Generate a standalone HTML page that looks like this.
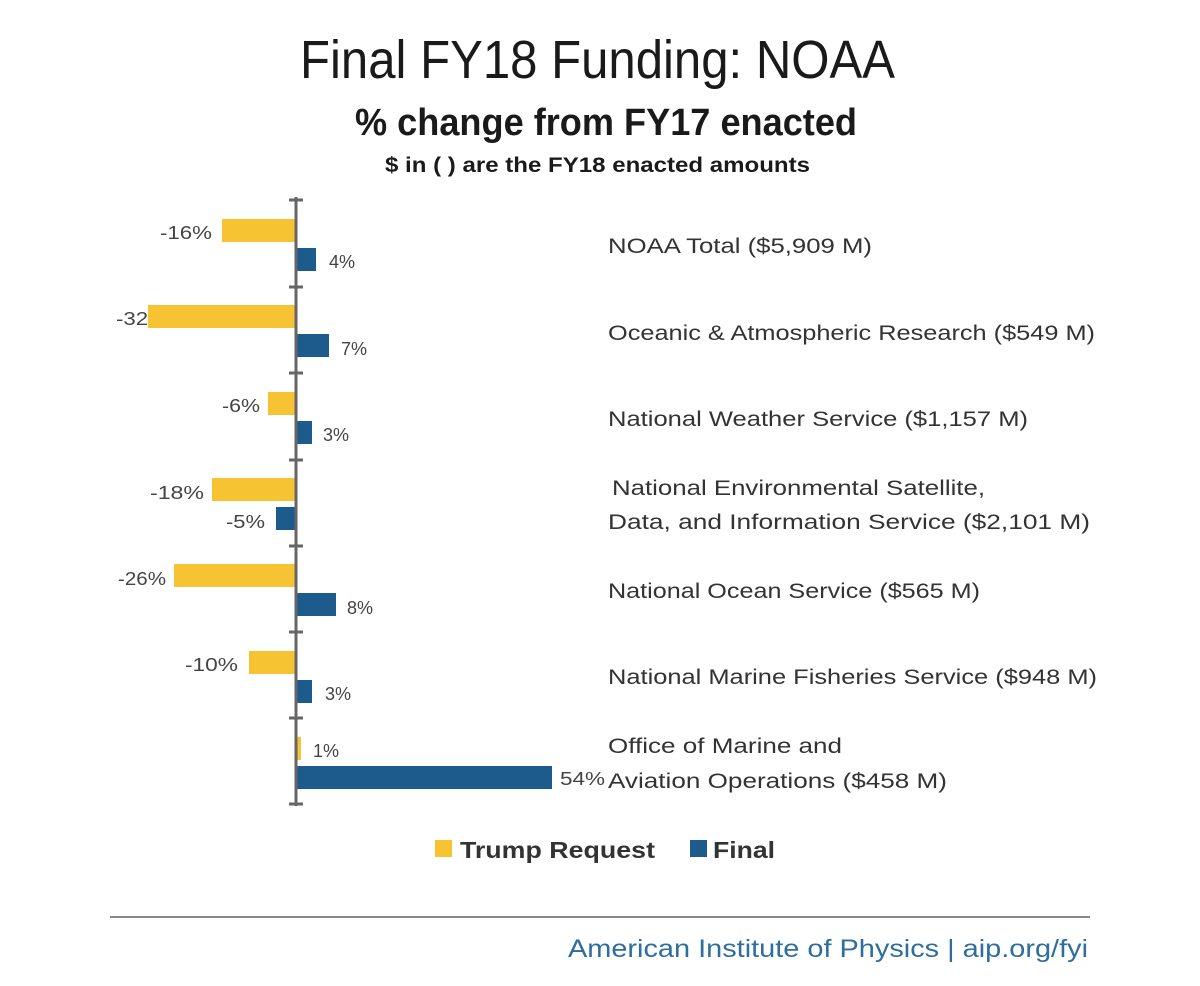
<!DOCTYPE html>
<html><head><style>body{margin:0;background:#fff}</style></head><body>
<svg width="1200" height="981" xmlns="http://www.w3.org/2000/svg" font-family="Liberation Sans, sans-serif">
<rect width="1200" height="981" fill="#fff"/>
<text x="300" y="78" font-size="54" font-weight="normal" fill="#1a1a1a" textLength="595" lengthAdjust="spacingAndGlyphs">Final FY18 Funding: NOAA</text>
<text x="355" y="135" font-size="38" font-weight="bold" fill="#1a1a1a" textLength="502" lengthAdjust="spacingAndGlyphs">% change from FY17 enacted</text>
<text x="385" y="172" font-size="21" font-weight="bold" fill="#1a1a1a" textLength="425" lengthAdjust="spacingAndGlyphs">$ in ( ) are the FY18 enacted amounts</text>
<text x="116" y="325" font-size="18" fill="#444" textLength="52" lengthAdjust="spacingAndGlyphs">-32%</text>
<g fill="#F6C332">
<rect x="222" y="219" width="74" height="23"/>
<rect x="148" y="305" width="148" height="23"/>
<rect x="268" y="392" width="28" height="23"/>
<rect x="212" y="478" width="84" height="23"/>
<rect x="174" y="564" width="122" height="23"/>
<rect x="249" y="651" width="47" height="23"/>
<rect x="296" y="737" width="5" height="23"/>
</g>
<g fill="#1D5B8C">
<rect x="296" y="248" width="20" height="23"/>
<rect x="296" y="334" width="33" height="23"/>
<rect x="296" y="421" width="16" height="23"/>
<rect x="276" y="507" width="20" height="23"/>
<rect x="296" y="593" width="40" height="23"/>
<rect x="296" y="680" width="16" height="23"/>
<rect x="296" y="766" width="256" height="23"/>
</g>
<g stroke="#666" stroke-width="3">
<line x1="296" y1="197" x2="296" y2="806"/>
<line x1="289" y1="200" x2="303" y2="200"/><line x1="289" y1="287" x2="303" y2="287"/>
<line x1="289" y1="373" x2="303" y2="373"/><line x1="289" y1="460" x2="303" y2="460"/>
<line x1="289" y1="546" x2="303" y2="546"/><line x1="289" y1="632" x2="303" y2="632"/>
<line x1="289" y1="718" x2="303" y2="718"/><line x1="289" y1="804" x2="303" y2="804"/>
</g>
<g font-size="18" fill="#444">
<text x="160" y="239" textLength="52" lengthAdjust="spacingAndGlyphs">-16%</text><text x="329" y="268">4%</text>
<text x="341" y="355">7%</text>
<text x="222" y="412" textLength="38" lengthAdjust="spacingAndGlyphs">-6%</text><text x="323" y="441">3%</text>
<text x="150" y="499" textLength="54" lengthAdjust="spacingAndGlyphs">-18%</text><text x="226" y="528" textLength="39" lengthAdjust="spacingAndGlyphs">-5%</text>
<text x="118" y="585" textLength="48" lengthAdjust="spacingAndGlyphs">-26%</text><text x="347" y="614">8%</text>
<text x="185" y="671" textLength="53" lengthAdjust="spacingAndGlyphs">-10%</text><text x="325" y="700">3%</text>
<text x="313" y="757">1%</text><text x="560" y="785" textLength="45" lengthAdjust="spacingAndGlyphs">54%</text>
</g>
<g font-size="21" fill="#333">
<text x="608" y="253" textLength="264" lengthAdjust="spacingAndGlyphs">NOAA Total ($5,909 M)</text>
<text x="608" y="340" textLength="487" lengthAdjust="spacingAndGlyphs">Oceanic &amp; Atmospheric Research ($549 M)</text>
<text x="608" y="426" textLength="420" lengthAdjust="spacingAndGlyphs">National Weather Service ($1,157 M)</text>
<text x="612" y="495" textLength="373" lengthAdjust="spacingAndGlyphs">National Environmental Satellite,</text>
<text x="608" y="529" textLength="482" lengthAdjust="spacingAndGlyphs">Data, and Information Service ($2,101 M)</text>
<text x="608" y="598" textLength="372" lengthAdjust="spacingAndGlyphs">National Ocean Service ($565 M)</text>
<text x="608" y="684" textLength="489" lengthAdjust="spacingAndGlyphs">National Marine Fisheries Service ($948 M)</text>
<text x="608" y="753" textLength="234" lengthAdjust="spacingAndGlyphs">Office of Marine and</text>
<text x="608" y="788" textLength="339" lengthAdjust="spacingAndGlyphs">Aviation Operations ($458 M)</text>
</g>
<rect x="435" y="840" width="17" height="17" fill="#F6C332"/>
<text x="460" y="858" font-size="23" font-weight="bold" fill="#333" textLength="195" lengthAdjust="spacingAndGlyphs">Trump Request</text>
<rect x="690" y="840" width="17" height="17" fill="#1D5B8C"/>
<text x="713" y="858" font-size="23" font-weight="bold" fill="#333" textLength="62" lengthAdjust="spacingAndGlyphs">Final</text>
<line x1="110" y1="917" x2="1090" y2="917" stroke="#888" stroke-width="2"/>
<text x="568" y="957" font-size="25" fill="#2E6E9E" textLength="520" lengthAdjust="spacingAndGlyphs">American Institute of Physics | aip.org/fyi</text>
</svg>
</body></html>
